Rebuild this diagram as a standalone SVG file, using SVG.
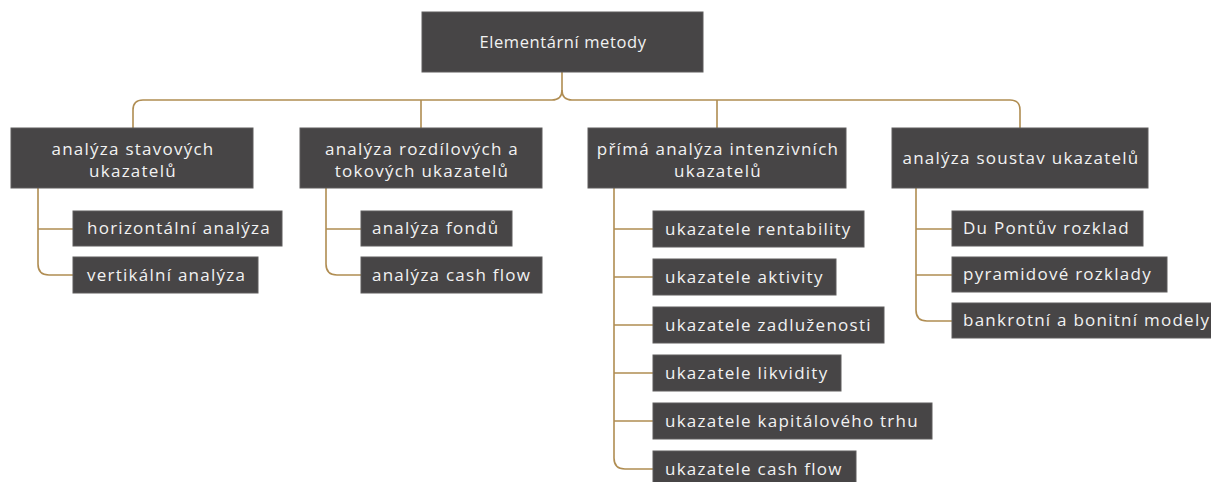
<svg xmlns="http://www.w3.org/2000/svg" width="1211" height="482" viewBox="0 0 1211 482">
<style>
.box{fill:#474546;stroke:#5e5c5d;stroke-width:1}
.t{font-family:"Open Sans","Liberation Sans",sans-serif;font-size:17px;letter-spacing:1.25px;fill:#f2f2f2}
.c{text-anchor:middle}
.ln{fill:none;stroke:#b08d52;stroke-width:1.6}
</style>
<rect width="1211" height="482" fill="#ffffff"/>
<g id="connectors">
<path class="ln" d="M562,72 V90 Q562,100 552,100 H143 Q133,100 133,110 V128"/>
<path class="ln" d="M562,90 Q562,100 572,100 H1010 Q1020,100 1020,110 V128"/>
<path class="ln" d="M421,100 V128 M717,100 V128"/>
<path class="ln" d="M38,188 V264 Q38,275 49,275 H73 M38,229 H73"/>
<path class="ln" d="M326,188 V264 Q326,275 337,275 H361 M326,229 H361"/>
<path class="ln" d="M614,188 V458 Q614,469 625,469 H653 M614,229 H653 M614,277 H653 M614,325 H653 M614,373 H653 M614,421 H653"/>
<path class="ln" d="M916,188 V310 Q916,321 927,321 H952 M916,229 H952 M916,275 H952"/>
</g>
<g id="root"><rect class="box" x="422" y="12" width="281" height="60"/><text class="t c" x="563" y="48" style="font-size:16.5px;letter-spacing:0.6px">Elementární metody</text></g>
<g id="n1"><rect class="box" x="11" y="128" width="242" height="60"/><text class="t c" x="133" y="155">analýza stavových</text><text class="t c" x="133" y="177">ukazatelů</text></g>
<g id="n2"><rect class="box" x="300" y="128" width="242" height="60"/><text class="t c" x="422" y="155">analýza rozdílových a</text><text class="t c" x="422" y="177">tokových ukazatelů</text></g>
<g id="n3"><rect class="box" x="588" y="128" width="258" height="60"/><text class="t c" x="718" y="155">přímá analýza intenzivních</text><text class="t c" x="718" y="177">ukazatelů</text></g>
<g id="n4"><rect class="box" x="892" y="128" width="256" height="60"/><text class="t c" x="1021" y="164">analýza soustav ukazatelů</text></g>
<g id="n1a"><rect class="box" x="73" y="211" width="209" height="35"/><text class="t" x="87" y="234">horizontální analýza</text></g>
<g id="n1b"><rect class="box" x="73" y="257" width="185" height="36"/><text class="t" x="87" y="281">vertikální analýza</text></g>
<g id="n2a"><rect class="box" x="361" y="211" width="151" height="35"/><text class="t" x="372" y="234">analýza fondů</text></g>
<g id="n2b"><rect class="box" x="361" y="257" width="181" height="36"/><text class="t" x="372" y="281">analýza cash flow</text></g>
<g id="n3a"><rect class="box" x="653" y="211" width="211" height="36"/><text class="t" x="665" y="235">ukazatele rentability</text></g>
<g id="n3b"><rect class="box" x="653" y="259" width="183" height="36"/><text class="t" x="665" y="283">ukazatele aktivity</text></g>
<g id="n3c"><rect class="box" x="653" y="307" width="231" height="36"/><text class="t" x="665" y="331">ukazatele zadluženosti</text></g>
<g id="n3d"><rect class="box" x="653" y="355" width="188" height="36"/><text class="t" x="665" y="379">ukazatele likvidity</text></g>
<g id="n3e"><rect class="box" x="653" y="403" width="279" height="36"/><text class="t" x="665" y="427">ukazatele kapitálového trhu</text></g>
<g id="n3f"><rect class="box" x="653" y="451" width="203" height="36"/><text class="t" x="665" y="475">ukazatele cash flow</text></g>
<g id="n4a"><rect class="box" x="952" y="211" width="191" height="35"/><text class="t" x="963" y="234">Du Pontův rozklad</text></g>
<g id="n4b"><rect class="box" x="952" y="257" width="215" height="35"/><text class="t" x="963" y="280">pyramidové rozklady</text></g>
<g id="n4c"><rect class="box" x="952" y="303" width="262" height="35"/><text class="t" x="963" y="326">bankrotní a bonitní modely</text></g>
</svg>
